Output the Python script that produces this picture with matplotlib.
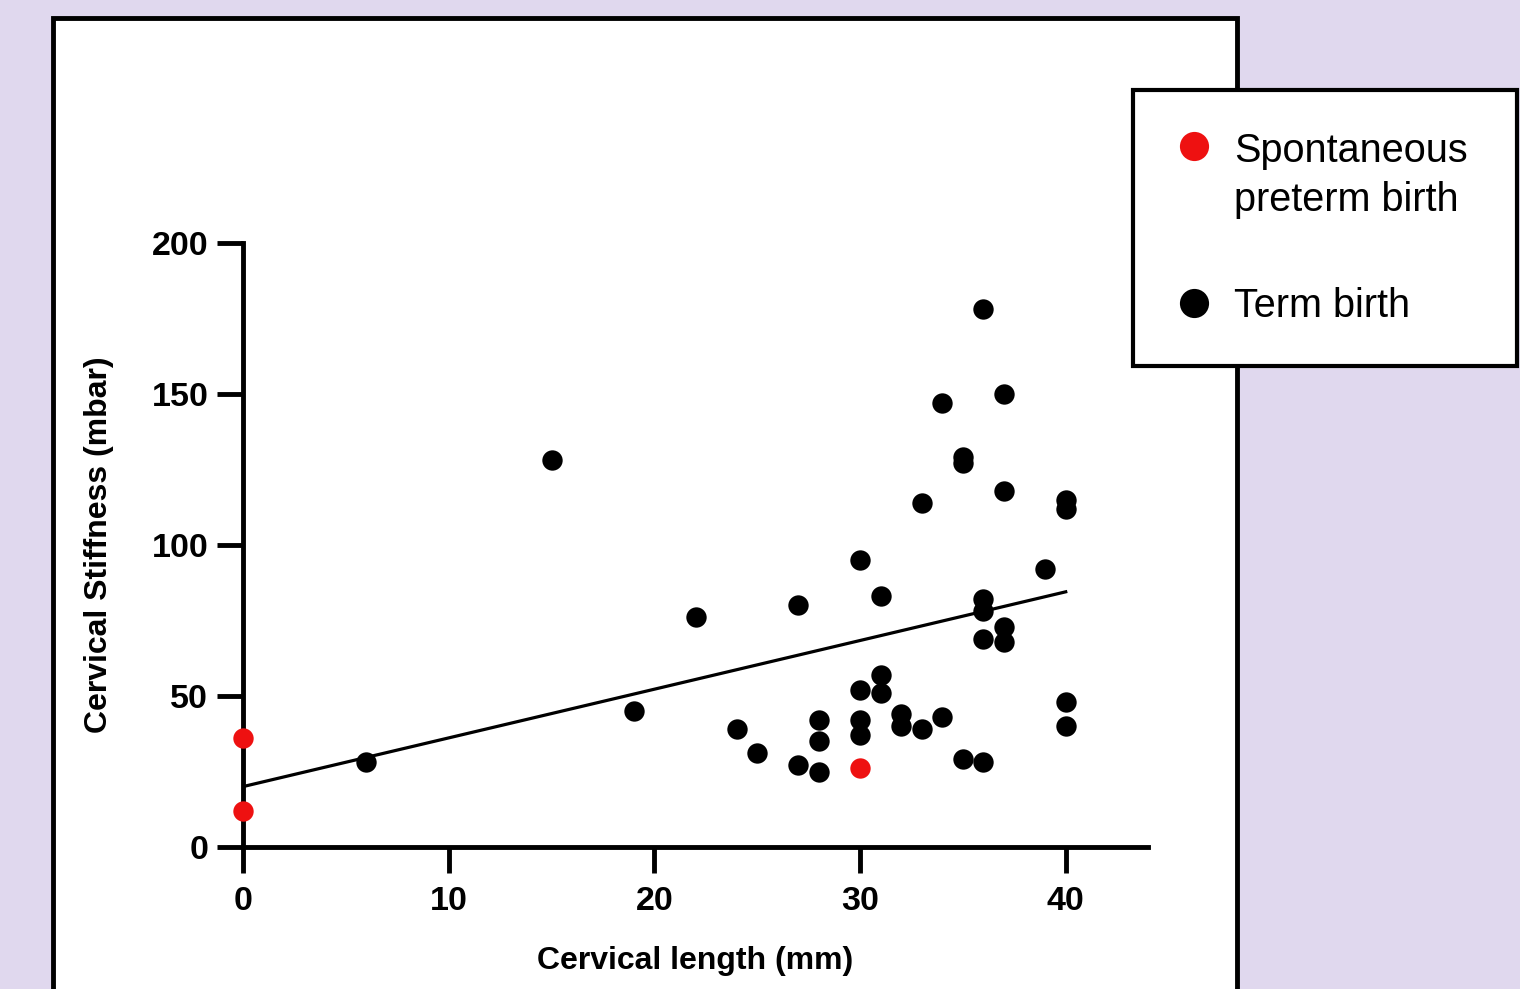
import matplotlib.pyplot as plt
from matplotlib.patches import Rectangle
from matplotlib.lines import Line2D

plt.rcParams['font.family'] = ['Liberation Sans', 'DejaVu Sans']

# term birth: cervical length (mm), stiffness (mbar)
term_length = [6, 15, 19, 22, 24, 25, 27, 27, 28, 28, 28, 30, 30, 30, 30,
               31, 31, 31, 32, 32, 33, 33, 34, 34, 35, 35, 35, 36, 36, 36,
               36, 36, 37, 37, 37, 37, 39, 40, 40, 40, 40]
term_stiff = [28, 128, 45, 76, 39, 31, 80, 27, 42, 35, 25, 95, 52, 42, 37,
              83, 57, 51, 44, 40, 114, 39, 147, 43, 129, 127, 29, 178, 82, 78,
              69, 28, 150, 118, 73, 68, 92, 115, 112, 48, 40]

# spontaneous preterm birth
sptb_length = [0, 0, 30]
sptb_stiff = [36, 12, 26]

# regression line end points
fit_x = [0, 40]
fit_y = [20, 84.5]

legend_labels = ['Spontaneous\npreterm birth', 'Term birth']

RED = '#EE1111'
BG = '#E0D8EE'
W, H = 1520, 989


def fx(px):
    return px / W


def fy(py):
    return 1 - py / H


fig = plt.figure(figsize=(15.2, 9.89), dpi=100, facecolor=BG)

# white panel behind the plot
panel = Rectangle((fx(53), -0.05), fx(1237) - fx(53), fy(18) + 0.05,
                  transform=fig.transFigure, facecolor='white', edgecolor='black',
                  linewidth=3.5, zorder=-1)
fig.patches.append(panel)

ax = fig.add_axes([fx(243), fy(847), fx(1148) - fx(243), fy(243) - fy(847)])
ax.set_facecolor('none')

ax.plot(fit_x, fit_y, color='black', linewidth=2.3, zorder=2)
ax.scatter(term_length, term_stiff, s=215, color='black', zorder=3, clip_on=False,
           linewidths=0)
ax.scatter(sptb_length, sptb_stiff, s=215, color=RED, zorder=4, clip_on=False,
           linewidths=0)

ax.set_xlim(0, 44)
ax.set_ylim(0, 200)
ax.set_xticks([0, 10, 20, 30, 40])
ax.set_yticks([0, 50, 100, 150, 200])

for side in ['top', 'right']:
    ax.spines[side].set_visible(False)
for side in ['left', 'bottom']:
    ax.spines[side].set_linewidth(3.5)

ax.tick_params(axis='both', length=19, width=3.5, labelsize=24.5)
ax.tick_params(axis='x', pad=9)
ax.tick_params(axis='y', pad=6)
for lab in ax.get_xticklabels() + ax.get_yticklabels():
    lab.set_fontweight('bold')

ax.set_xlabel('Cervical length (mm)', fontsize=23, fontweight='bold', labelpad=21)
ax.set_ylabel('Cervical Stiffness (mbar)', fontsize=23, fontweight='bold', labelpad=27)

# legend box drawn outside the white panel
box = Rectangle((fx(1133), fy(366)), fx(1517) - fx(1133), fy(90) - fy(366),
                transform=fig.transFigure, facecolor='white', edgecolor='black',
                linewidth=3, zorder=5)
fig.patches.append(box)
for color, ypx in [(RED, 146), ('black', 303)]:
    fig.add_artist(Line2D([fx(1194)], [fy(ypx)], transform=fig.transFigure,
                          linestyle='none', marker='o', markersize=21,
                          markerfacecolor=color, markeredgewidth=0, zorder=6))

first, second = legend_labels[0].split('\n')
for text, ypx in [(first, 162), (second, 211), (legend_labels[1], 317)]:
    fig.text(fx(1234), fy(ypx), text, fontsize=28.5, va='baseline',
             ha='left', zorder=6)

plt.savefig('out.png', dpi=100, facecolor=BG)
